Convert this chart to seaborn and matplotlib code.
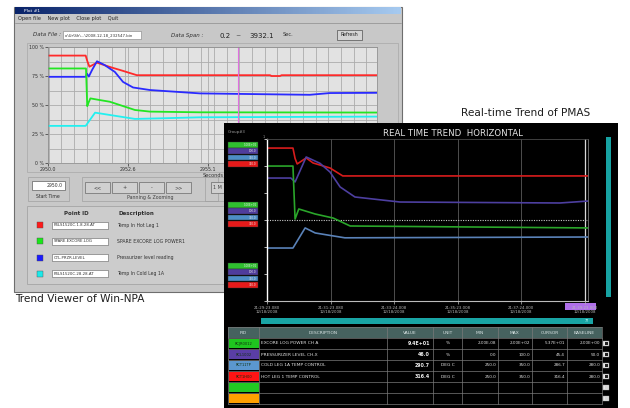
import numpy as np
import pandas as pd
import matplotlib.pyplot as plt
import seaborn as sns
from matplotlib.patches import Rectangle
from matplotlib.colors import LinearSegmentedColormap
from matplotlib.ticker import MultipleLocator

# ─────────────────────────────────────────────────────────────
# DATA : Win-NPA trend viewer (time in s, value in % of scale)
# ─────────────────────────────────────────────────────────────
npa_red_t = [2950.0, 2951.20, 2951.25, 2951.32, 2951.56, 2951.97, 2952.39, 2952.83,
             2957.07, 2957.12, 2957.39, 2957.44, 2960.48]
npa_red_v = [92.6, 92.6, 88.0, 83.0, 86.5, 82.8, 79.4, 75.7, 75.7, 75.0, 75.0, 75.7, 75.7]

npa_blue_t = [2950.0, 2951.20, 2951.24, 2951.30, 2951.40, 2951.56, 2951.80, 2952.13,
              2952.39, 2952.71, 2953.25, 2954.84, 2957.71, 2958.34, 2958.98, 2960.48]
npa_blue_v = [74.3, 74.3, 77.0, 74.5, 80.0, 87.7, 84.5, 78.5, 69.9, 65.1, 62.9, 60.0,
              59.0, 58.8, 60.3, 60.5]

npa_green_t = [2950.0, 2951.21, 2951.25, 2951.29, 2951.35, 2951.60, 2951.97, 2952.77,
               2953.25, 2954.84, 2960.48]
npa_green_v = [81.5, 81.5, 49.0, 52.0, 55.7, 54.5, 52.8, 45.7, 44.3, 43.7, 43.5]

npa_cyan_t = [2950.0, 2951.20, 2951.50, 2951.97, 2952.77, 2953.73, 2954.84, 2960.48]
npa_cyan_v = [32.0, 32.0, 43.4, 41.4, 38.0, 38.6, 39.4, 40.0]

npa_xticks = [2950.0, 2952.55, 2955.1]
npa_xlabels = ["2950.0", "2952.6", "2955.1"]
npa_yticks = [0, 25, 50, 75, 100]
npa_ylabels = ["0 %", "25 %", "50 %", "75 %", "100 %"]

npa_ids = ["P4LS1520C.1.8.28.AT", "SPARE.EXCORE.LOG", "CTL.PRZR.LEVEL", "P4LS1520C.28.28.AT"]
npa_desc = ["Temp In Hot Leg 1", "SPARE EXCORE LOG POWER1",
            "Pressurizer level reading", "Temp In Cold Leg 1A"]
npa_colors = ["#ff1a1a", "#19e619", "#1a1aff", "#1aeaea"]

# ─────────────────────────────────────────────────────────────
# DATA : PMAS real time trend (s after 21:29:23, % of chart)
# ─────────────────────────────────────────────────────────────
pm_red_t = [0, 49, 53, 57, 74, 87, 119, 143, 162, 606]
pm_red_v = [94.4, 94.4, 88.0, 84.6, 88.3, 85.2, 82.1, 77.2, 77.2, 77.2]

pm_navy_t = [0, 45, 53, 74, 100, 119, 138, 166, 251, 553, 606]
pm_navy_v = [75.9, 75.9, 73.5, 88.9, 85.0, 79.6, 70.4, 64.2, 61.1, 60.5, 61.7]

pm_green_t = [0, 49, 53, 60, 91, 125, 157, 606]
pm_green_v = [83.3, 83.3, 50.6, 56.8, 53.7, 51.2, 46.3, 45.1]

pm_steel_t = [0, 49, 72, 91, 115, 147, 606]
pm_steel_v = [32.7, 32.7, 45.1, 42.0, 40.7, 39.0, 39.5]

pm_xticks = [0, 120, 240, 360, 480, 600]
pm_times = ["21:29:23.080", "21:31:23.080", "21:33:24.008",
            "21:35:23.008", "21:37:24.000", "21:39:23.000"]
pm_date = "12/18/2008"

pm_pid = ["RCJR0012", "RCL1002", "RCT11TP", "RCT1H00", "", ""]
pm_desc = ["EXCORE LOG POWER CH A", "PRESSURIZER LEVEL CH-X",
           "COLD LEG 1A TEMP CONTROL", "HOT LEG 1 TEMP CONTROL", "", ""]
pm_value = ["9.4E+01", "46.0", "290.7", "316.4", "", ""]
pm_unit = ["%", "%", "DEG C", "DEG C", "", ""]
pm_min = ["2.00E-08", "0.0", "250.0", "250.0", "", ""]
pm_max = ["2.00E+02", "100.0", "350.0", "350.0", "", ""]
pm_cursor = ["5.37E+01", "45.4", "286.7", "316.4", "", ""]
pm_base = ["2.00E+00", "50.0", "280.0", "280.0", "", ""]
pm_pid_colors = ["#1fc41f", "#5a3ea6", "#5b97cf", "#ff1414", "#23c823", "#ffa000"]
pm_group_colors = ["#2fbf2f", "#4f3c9c", "#4d8dc6", "#e51a1a"]
pm_group_text = ["1.00E+02", "100.0", "350.0", "350.0"]

# ─────────────────────────────────────────────────────────────
# FIGURE HELPERS (pixel based layout)
# ─────────────────────────────────────────────────────────────
sns.set_theme(style="white")
plt.rcParams['font.family'] = ['DejaVu Sans']

W, H = 630, 408
fig = plt.figure(figsize=(6.3, 4.08), dpi=100, facecolor="white")


def pixel_axes(x0, y0, x1, y1, z):
    ax = fig.add_axes([x0 / W, 1 - y1 / H, (x1 - x0) / W, (y1 - y0) / H])
    ax.set_zorder(z)
    return ax


def canvas(x0, y0, x1, y1, z):
    ax = pixel_axes(x0, y0, x1, y1, z)
    ax.set_xlim(x0, x1)
    ax.set_ylim(y1, y0)
    ax.axis("off")
    return ax


def box(ax, x0, y0, x1, y1, fc, ec="none", lw=0.6):
    ax.add_patch(Rectangle((x0, y0), x1 - x0, y1 - y0, fc=fc, ec=ec, lw=lw))


def long_frame(series):
    rows = []
    for name, ts, vs in series:
        rows.append(pd.DataFrame({"t": ts, "v": vs, "series": name}))
    return pd.concat(rows, ignore_index=True)


# ─────────────────────────────────────────────────────────────
# LEFT WINDOW : Win-NPA
# ─────────────────────────────────────────────────────────────
bg = canvas(0, 0, W, H, 0)

box(bg, 14, 7, 402, 292, "#c8c8c8", "#6e6e6e", 0.8)
grad = np.linspace(0, 1, 200).reshape(1, -1)
cmap = LinearSegmentedColormap.from_list("bar", ["#0a246a", "#a6caf0"])
bg.imshow(grad, extent=[15, 401, 14.5, 8], cmap=cmap, aspect="auto", zorder=2)
bg.set_xlim(0, W)
bg.set_ylim(H, 0)
box(bg, 16, 9, 22, 13.5, "#d8d8ff")
bg.text(24, 11.3, "Plot #1", fontsize=3.2, color="white", va="center")

bg.text(18, 18.5, "Open file    New plot    Close plot    Quit",
        fontsize=3.6, color="#202020", va="center")
bg.plot([15, 401], [22.5, 22.5], color="#8c8c8c", lw=0.5)

bg.text(33, 35, "Data File :", fontsize=4, style="italic", color="#303030", va="center")
box(bg, 63, 31, 141, 39, "white", "#808080", 0.4)
bg.text(65, 35, "c:\\Ur\\Sh\\...\\2008.12.18_232547.bin", fontsize=2.8,
        color="#303030", va="center")
bg.text(171, 35, "Data Span :", fontsize=4, style="italic", color="#303030", va="center")
bg.text(219, 35.5, "0.2", fontsize=5, color="#202020", va="center")
bg.text(235, 35.5, "~", fontsize=4.5, color="#202020", va="center")
bg.text(249, 35.5, "3932.1", fontsize=5, color="#202020", va="center")
bg.text(283, 34.5, "Sec.", fontsize=3.6, color="#303030", va="center")
box(bg, 337, 30, 362, 40, "#d4d4d4", "#505050", 0.5)
bg.text(349.5, 35, "Refresh", fontsize=3.4, color="#202020", va="center", ha="center")

box(bg, 27, 43, 398, 172, "none", "#a8a8a8", 0.5)
bg.text(203, 175.5, "Seconds", fontsize=3.6, color="#303030", va="center")

# controls
box(bg, 28, 177, 69, 201, "none", "#a0a0a0", 0.5)
box(bg, 32, 181, 65, 190, "white", "#606060", 0.5)
bg.text(63, 185.5, "2950.0", fontsize=3.3, ha="right", va="center", color="#303030")
bg.text(36, 196.5, "Start Time", fontsize=3.3, va="center", color="#303030")
box(bg, 82, 177, 218, 201, "none", "#a0a0a0", 0.5)
for i, lab in enumerate(["<<", "+", "-", ">>"]):
    x0 = 85 + i * 27
    box(bg, x0, 182, x0 + 25, 193, "#d0d0d0", "#6a6a6a", 0.5)
    bg.text(x0 + 12.5, 187.5, lab, fontsize=3.5, ha="center", va="center", color="#404040")
bg.text(150, 197, "Panning & Zooming", fontsize=3.4, ha="center", va="center", color="#404040")
box(bg, 205, 177, 230, 201, "none", "#a0a0a0", 0.5)
box(bg, 211, 182, 230, 193, "#d0d0d0", "#6a6a6a", 0.5)
bg.text(213, 187.5, "1 M", fontsize=3.5, va="center", color="#404040")

# point id table
box(bg, 27, 206, 230, 284, "#cccccc", "#a4a4a4", 0.6)
bg.text(76, 213.5, "Point ID", fontsize=4, weight="bold", ha="center", va="center", color="#303030")
bg.text(136, 213.5, "Description", fontsize=4, weight="bold", ha="center", va="center", color="#303030")
for i in range(4):
    yc = 225 + i * 16.3
    box(bg, 37, yc - 3, 43, yc + 3, npa_colors[i], "#505050", 0.3)
    box(bg, 52, yc - 3.5, 108, yc + 3.5, "white", "#606060", 0.4)
    bg.text(53.5, yc, npa_ids[i], fontsize=2.8, va="center", color="#303030")
    bg.text(117, yc, npa_desc[i], fontsize=3.3, va="center", color="#303030")

bg.text(15, 299.5, "Trend Viewer of Win-NPA", fontsize=7.6, va="center", color="#1e1e1e")
bg.text(461, 113, "Real-time Trend of PMAS", fontsize=7.6, va="center", color="#1e1e1e")

# plot
ax1 = pixel_axes(48, 47, 377, 163, 1)
ax1.set_facecolor("#e2e2e2")
npa_df = long_frame([("red", npa_red_t, npa_red_v), ("blue", npa_blue_t, npa_blue_v),
                     ("green", npa_green_t, npa_green_v), ("cyan", npa_cyan_t, npa_cyan_v)])
sns.lineplot(data=npa_df, x="t", y="v", hue="series", sort=False, estimator=None,
             palette={"red": "#ff2a2a", "blue": "#2a2aff", "green": "#22e622", "cyan": "#22f0f0"},
             lw=1.3, legend=False, ax=ax1)
ax1.set_xlim(2950.0, 2960.48)
ax1.set_ylim(0, 100)
ax1.xaxis.set_minor_locator(MultipleLocator(0.405))
ax1.yaxis.set_minor_locator(MultipleLocator(12.5))
ax1.grid(which="minor", color="#acacac", lw=0.6)
ax1.grid(which="major", color="#acacac", lw=0.6)
ax1.axvline(2956.05, color="#e070e0", lw=0.8)
ax1.set_xticks(npa_xticks, npa_xlabels)
ax1.set_yticks(npa_yticks, npa_ylabels)
ax1.tick_params(axis="both", which="major", labelsize=3.4, length=2, width=0.5,
                pad=1, colors="#303030", direction="out", bottom=True, left=True)
ax1.tick_params(which="minor", length=0)
ax1.set_xlabel("")
ax1.set_ylabel("")
for s in ax1.spines.values():
    s.set_color("#8a8a8a")
    s.set_linewidth(0.5)

# ─────────────────────────────────────────────────────────────
# RIGHT WINDOW : PMAS
# ─────────────────────────────────────────────────────────────
rw = canvas(224, 123, 618, 408, 2)
box(rw, 224, 123, 618, 408, "black")
rw.text(228, 132, "Group#3", fontsize=2.8, color="#a0a0a0", va="center")
rw.text(453, 133.5, "REAL TIME TREND  HORIZONTAL", fontsize=6.2, color="#e6e6e6",
        ha="center", va="center")
rw.text(263, 137, "1", fontsize=2.5, color="#a0a0a0", va="center")

for y_top in [142, 202, 263]:
    for i, c in enumerate(pm_group_colors):
        y0 = y_top + i * 6.4
        box(rw, 228, y0, 258, y0 + 5.6, c, "#303030", 0.3)
        rw.text(256.5, y0 + 2.9, pm_group_text[i], fontsize=2.0, color="#e8e8e8",
                ha="right", va="center")

box(rw, 606, 137, 611, 297, "#17a3a3")
box(rw, 565, 303, 596, 309.5, "#b070ea")
box(rw, 261, 318, 593, 323.5, "#19a5a5")
rw.text(589, 320.7, "77", fontsize=2.4, color="#d0ffff", ha="right", va="center")

# table
edges = [228, 259, 387, 433, 462, 498, 532, 567, 602]
heads = ["PID", "DESCRIPTION", "VALUE", "UNIT", "MIN", "MAX", "CURSOR", "BASELINE"]
top, head_h, row_h = 327, 11, 11
box(rw, edges[0], top, edges[-1], top + head_h, "#46625f")
for j, h in enumerate(heads):
    rw.text((edges[j] + edges[j + 1]) / 2, top + head_h / 2, h, fontsize=3.2,
            color="#d8e4e4", ha="center", va="center")
cols = [pm_desc, pm_value, pm_unit, pm_min, pm_max, pm_cursor, pm_base]
for i in range(6):
    y0 = top + head_h + i * row_h
    yc = y0 + row_h / 2
    box(rw, edges[0] + 0.5, y0 + 0.8, edges[1] - 0.5, y0 + row_h - 0.8, pm_pid_colors[i])
    rw.text((edges[0] + edges[1]) / 2, yc, pm_pid[i], fontsize=2.6, color="#103010",
            ha="center", va="center")
    rw.text(edges[1] + 2, yc, pm_desc[i], fontsize=3.2, color="#e0e0e0", va="center")
    rw.text(edges[3] - 3, yc, pm_value[i], fontsize=3.4, color="#f0f0f0",
            weight="bold", ha="right", va="center")
    rw.text((edges[3] + edges[4]) / 2, yc, pm_unit[i], fontsize=3.2, color="#e0e0e0",
            ha="center", va="center")
    for j, col in zip(range(4, 8), [pm_min, pm_max, pm_cursor, pm_base]):
        rw.text(edges[j + 1] - 2, yc, col[i], fontsize=3.0, color="#e0e0e0",
                ha="right", va="center")
    inner = "#202020" if i < 4 else "#d8d8d8"
    box(rw, 603.5, yc - 2.7, 609.5, yc + 2.7, "#e8e8e8", "#909090", 0.3)
    box(rw, 605, yc - 1.4, 608, yc + 1.4, inner)
bottom = top + head_h + 6 * row_h
for x in edges:
    rw.plot([x, x], [top, bottom], color="#7a7a7a", lw=0.5)
for k in range(8):
    y = top + k * row_h if k == 0 else top + head_h + (k - 1) * row_h
    rw.plot([edges[0], edges[-1]], [y, y], color="#7a7a7a", lw=0.5)

# trend plot
ax2 = pixel_axes(267, 139, 588, 301, 3)
ax2.set_facecolor("black")
for t in pm_xticks[1:-1]:
    ax2.axvline(t, color="#5a5a5a", lw=0.6)
ax2.axvline(pm_xticks[-1], color="#d8d8d8", lw=0.9)
ax2.axhline(50, color="#c8c8c8", lw=0.8, ls=(0, (1, 1.2)))
pm_df = long_frame([("red", pm_red_t, pm_red_v), ("navy", pm_navy_t, pm_navy_v),
                    ("green", pm_green_t, pm_green_v), ("steel", pm_steel_t, pm_steel_v)])
sns.lineplot(data=pm_df, x="t", y="v", hue="series", sort=False, estimator=None,
             palette={"red": "#d81c1c", "navy": "#4d3fa0", "green": "#2aa52a", "steel": "#5a82b8"},
             lw=1.2, legend=False, ax=ax2)
ax2.set_xlim(0, 606)
ax2.set_ylim(0, 100)
ax2.set_xticks(pm_xticks, [f"{t}\n{pm_date}" for t in pm_times])
ax2.set_yticks(np.linspace(0, 100, 7), [])
ax2.tick_params(axis="x", labelsize=2.8, colors="#b8b8b8", length=2, width=0.5, pad=1.5,
                bottom=True)
ax2.tick_params(axis="y", colors="white", length=2, width=0.5, left=True)
ax2.set_xlabel("")
ax2.set_ylabel("")
ax2.spines["left"].set_color("white")
ax2.spines["left"].set_linewidth(1.0)
ax2.spines["bottom"].set_color("#bcbcbc")
ax2.spines["bottom"].set_linewidth(0.8)
ax2.spines["top"].set_color("#4a4a4a")
ax2.spines["right"].set_color("#7a7a7a")
for s in ["top", "right"]:
    ax2.spines[s].set_linewidth(0.6)

fig.savefig("out.png", dpi=100, facecolor="white")
